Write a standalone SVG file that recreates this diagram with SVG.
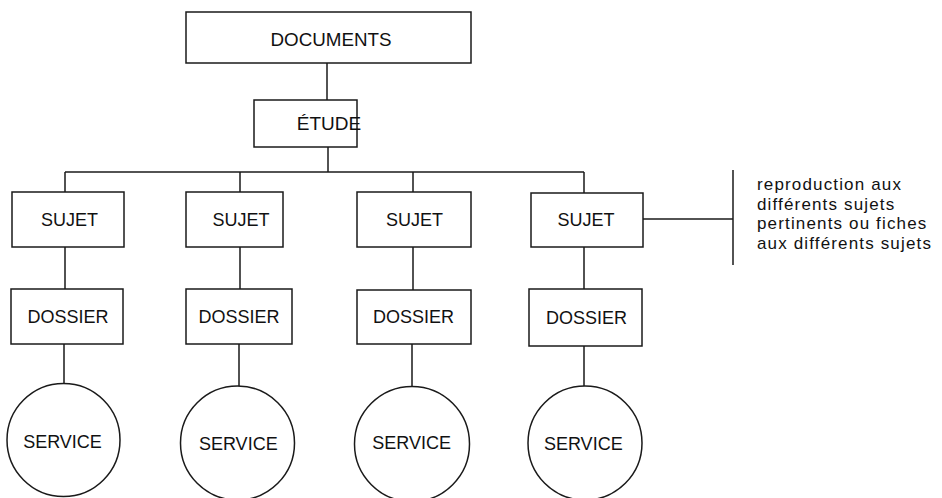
<svg xmlns="http://www.w3.org/2000/svg" width="942" height="498" viewBox="0 0 942 498">
<style>
.box{fill:#fff;stroke:#1a1a1a;stroke-width:1.5}
.lbl{font-family:"Liberation Sans",Arial,sans-serif;font-size:18px;fill:#111;text-anchor:middle}
.note{font-family:"Liberation Sans",Arial,sans-serif;font-size:17px;letter-spacing:1.15px;fill:#111}
#connectors path{fill:none;stroke:#1a1a1a;stroke-width:1.5}
</style>
<rect width="942" height="498" fill="#fff"/>
<g id="connectors">
<path d="M327 63V100"/>
<path d="M328 147V172"/>
<path d="M65 172H584"/>
<path d="M65 172V192M240 172V192M413 172V192M584 172V193"/>
<path d="M65 247V289M240 247V289M413 247V290M584 247V289"/>
<path d="M64 344V383M239 344V386M412 344V387M584 346V386"/>
<path d="M643 219H733"/>
<path d="M733 170V265"/>
</g>
<g id="documents"><rect class="box" x="186" y="12" width="285" height="51"/><text class="lbl" x="331" y="46" style="font-size:18.8px">DOCUMENTS</text></g>
<g id="etude"><rect class="box" x="254" y="100" width="103" height="47"/><text class="lbl" x="329" y="129.5" style="font-size:19px">ÉTUDE</text></g>
<g id="sujet1"><rect class="box" x="12" y="192" width="112" height="55"/><text class="lbl" x="69.5" y="225.5">SUJET</text></g>
<g id="sujet2"><rect class="box" x="186" y="192" width="97" height="55"/><text class="lbl" x="241" y="225.5">SUJET</text></g>
<g id="sujet3"><rect class="box" x="357" y="192" width="114" height="55"/><text class="lbl" x="414.5" y="225.5">SUJET</text></g>
<g id="sujet4"><rect class="box" x="531" y="193" width="112" height="54"/><text class="lbl" x="586" y="225.5">SUJET</text></g>
<g id="dossier1"><rect class="box" x="11" y="289" width="112" height="55"/><text class="lbl" x="68" y="323">DOSSIER</text></g>
<g id="dossier2"><rect class="box" x="186" y="289" width="106" height="55"/><text class="lbl" x="239" y="323">DOSSIER</text></g>
<g id="dossier3"><rect class="box" x="357" y="290" width="114" height="54"/><text class="lbl" x="413.5" y="323">DOSSIER</text></g>
<g id="dossier4"><rect class="box" x="529" y="289" width="113" height="57"/><text class="lbl" x="586.5" y="324">DOSSIER</text></g>
<g id="service1"><circle class="box" cx="63.5" cy="440" r="56.5"/><text class="lbl" x="62.5" y="448">SERVICE</text></g>
<g id="service2"><circle class="box" cx="237.5" cy="443" r="57"/><text class="lbl" x="238.3" y="450">SERVICE</text></g>
<g id="service3"><circle class="box" cx="412" cy="444" r="57.5"/><text class="lbl" x="411.7" y="449">SERVICE</text></g>
<g id="service4"><circle class="box" cx="585" cy="443" r="57"/><text class="lbl" x="583.3" y="450">SERVICE</text></g>
<g id="note">
<text class="note" x="757" y="190">reproduction aux</text>
<text class="note" x="757" y="209.5">différents sujets</text>
<text class="note" x="757" y="229">pertinents ou fiches</text>
<text class="note" x="757" y="248.5">aux différents sujets</text>
</g>
</svg>
